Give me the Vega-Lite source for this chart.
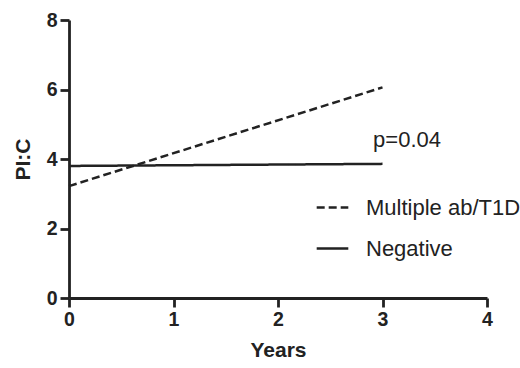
{
  "$schema": "https://vega.github.io/schema/vega-lite/v6.json",
  "autosize": {"type": "none"},
  "width": 418,
  "height": 278,
  "padding": {"left": 69, "top": 20, "right": 33, "bottom": 70},
  "background": "white",
  "config": {
    "view": {"stroke": null},
    "font": "Liberation Sans",
    "axis": {
      "grid": false,
      "domainColor": "#222222",
      "domainWidth": 2.8,
      "tickColor": "#222222",
      "tickWidth": 2.8,
      "tickSize": 9,
      "labelFont": "Liberation Sans",
      "labelFontWeight": "bold",
      "labelFontSize": 19.5,
      "labelColor": "#222222",
      "titleFont": "Liberation Sans",
      "titleFontWeight": "bold",
      "titleFontSize": 21,
      "titleColor": "#222222"
    }
  },
  "layer": [
    {
      "data": {
        "values": [
          {"group": "Multiple ab/T1D", "years": 0, "pic": 3.22},
          {"group": "Multiple ab/T1D", "years": 3, "pic": 6.06},
          {"group": "Negative", "years": 0, "pic": 3.8},
          {"group": "Negative", "years": 3, "pic": 3.86}
        ]
      },
      "mark": {"type": "line", "color": "#222222", "strokeWidth": 2.5},
      "encoding": {
        "x": {
          "field": "years", "type": "quantitative", "title": "Years",
          "scale": {"domain": [0, 4], "nice": false, "zero": false},
          "axis": {"values": [0, 1, 2, 3, 4], "format": "d", "labelPadding": 3, "titlePadding": 11, "labelFlush": false}
        },
        "y": {
          "field": "pic", "type": "quantitative", "title": "PI:C",
          "scale": {"domain": [0, 8], "nice": false},
          "axis": {"values": [0, 2, 4, 6, 8], "format": "d", "labelPadding": 3, "titlePadding": 13, "labelFlush": false}
        },
        "strokeDash": {
          "field": "group", "type": "nominal",
          "scale": {"domain": ["Multiple ab/T1D", "Negative"], "range": [[8, 4], [1, 0]]},
          "legend": {
            "title": null,
            "orient": "none",
            "legendX": 246,
            "legendY": 170,
            "symbolType": "stroke",
            "symbolSize": 1000,
            "symbolStrokeWidth": 2.5,
            "symbolStrokeColor": "#222222",
            "labelFontSize": 22,
            "labelFont": "Liberation Sans",
            "labelColor": "#222222",
            "labelOffset": 16,
            "labelLimit": 300,
            "rowPadding": 12
          }
        }
      }
    },
    {
      "data": {"values": [{"years": 2.91, "pic": 4.35, "label": "p=0.04"}]},
      "mark": {"type": "text", "align": "left", "baseline": "alphabetic", "fontSize": 22, "font": "Liberation Sans", "color": "#222222"},
      "encoding": {
        "x": {"field": "years", "type": "quantitative"},
        "y": {"field": "pic", "type": "quantitative"},
        "text": {"field": "label"}
      }
    }
  ]
}
